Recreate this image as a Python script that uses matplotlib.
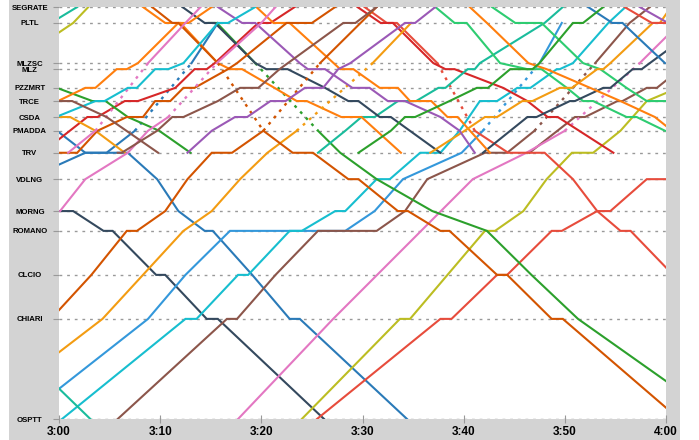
import matplotlib
matplotlib.use("Agg")
import matplotlib.pyplot as plt
from matplotlib.patches import Rectangle

# stations and their distance from Segrate (km)
stations = ["SEGRATE", "PLTL", "MLZSC", "MLZ", "PZZMRT", "TRCE", "CSDA", "PMADDA",
            "TRV", "VDLNG", "MORNG", "ROMANO", "CLCIO", "CHIARI", "OSPTT"]
km = [0.0, 2.9, 10.2, 11.3, 14.7, 17.1, 20.0, 22.5, 26.5, 31.3, 37.1, 40.7, 48.7, 56.7, 74.9]
pos = dict(zip(stations, km))

time_ticks = [0, 10, 20, 30, 40, 50, 60]
time_labels = ["3:00", "3:10", "3:20", "3:30", "3:40", "3:50", "4:00"]

# each train: (minutes after 3:00, station); "fast" = next leg on the fast tracks
t01 = [(0.0, "MORNG"), (1.4, "MORNG"), (4.4, "ROMANO"), (5.3, "ROMANO"), (9.6, "CLCIO"), (10.5, "CLCIO"),
       (14.6, "CHIARI"), (15.7, "CHIARI"), (26.2, "OSPTT")]
t02 = [(-1.5, "CSDA"), (-0.2, "PMADDA"), (2.6, "TRV"), (6.8, "TRV"), (9.7, "VDLNG"), (11.8, "MORNG"),
       (14.4, "ROMANO"), (15.2, "ROMANO"), (19.1, "CLCIO"), (22.8, "CHIARI"), (23.8, "CHIARI"), (34.4, "OSPTT")]
t03 = [(-3.2, "VDLNG"), (2.6, "TRV"), (4.7, "TRV"), (7.5, "PMADDA"), "fast", (13.1, "MLZSC"), (15.7, "PLTL")]
t04 = [(-3.8, "OSPTT"), (8.8, "CHIARI"), (12.5, "CLCIO"), (16.9, "ROMANO"), (28.3, "ROMANO"), (31.2, "MORNG"),
       (34.0, "VDLNG"), (39.8, "TRV"), (41.9, "PMADDA"), "fast", (47.5, "MLZSC"), (49.7, "PLTL")]
t05 = [(0.3, "OSPTT"), (12.5, "CHIARI"), (13.6, "CHIARI"), (17.7, "CLCIO"), (18.7, "CLCIO"), (22.8, "ROMANO"),
       (24.0, "ROMANO"), (27.3, "MORNG"), (28.3, "MORNG"), (31.4, "VDLNG"), (32.7, "VDLNG"), (35.7, "TRV"),
       (37.7, "TRV"), (39.6, "PMADDA"), (41.6, "TRCE"), (43.3, "TRCE"), (45.3, "PZZMRT"), (46.6, "PZZMRT"),
       (49.2, "MLZ"), (49.5, "MLZ"), (50.8, "MLZSC"), (54.3, "PLTL"), (56.0, "SEGRATE")]
t06 = [(5.8, "OSPTT"), (16.6, "CHIARI"), (17.6, "CHIARI"), (21.4, "CLCIO"), (25.6, "ROMANO"), (31.4, "ROMANO"),
       (34.2, "MORNG"), (36.4, "VDLNG"), (42.1, "TRV"), (44.3, "TRV"), (47.0, "PMADDA"), "fast",
       (53.0, "MLZSC"), (56.4, "PLTL"), (58.4, "SEGRATE")]
t07 = [(46.5, "TRV"), (51.0, "CSDA"), (52.0, "CSDA"), (55.2, "TRCE"), (55.7, "TRCE"), (58.1, "PZZMRT"),
       (59.1, "PZZMRT"), (61.4, "MLZ")]
t08 = [(17.7, "OSPTT"), (27.1, "CHIARI"), (40.9, "VDLNG"), (46.2, "TRV"), (50.0, "PMADDA"), "fast",
       (57.4, "MLZSC"), (61.4, "PLTL")]
t09 = [(24.0, "OSPTT"), (33.7, "CHIARI"), (34.7, "CHIARI"), (42.1, "ROMANO"), (43.1, "ROMANO"), (45.9, "MORNG"),
       (48.2, "VDLNG"), (50.7, "TRV"), (52.8, "TRV"), (55.5, "PMADDA"), (58.1, "TRCE"), (61.2, "PZZMRT")]
t10 = [(-4.5, "MLZSC"), (1.4, "PLTL"), (2.9, "SEGRATE")]
t11 = [(25.5, "OSPTT"), (37.7, "CHIARI"), (38.8, "CHIARI"), (43.3, "CLCIO"), (44.3, "CLCIO"), (48.7, "ROMANO"),
       (49.7, "ROMANO"), (53.2, "MORNG"), (54.5, "MORNG"), (58.1, "VDLNG"), (61.0, "VDLNG")]
t12 = [(30.2, "SEGRATE"), (32.4, "PLTL"), (33.4, "PLTL"), (37.4, "MLZSC"), "fast", (41.1, "PMADDA"),
       (44.4, "TRV"), (48.0, "TRV"), (50.8, "VDLNG"), (53.2, "MORNG"), (55.5, "ROMANO"), (56.5, "ROMANO"),
       (60.7, "CLCIO")]
t13 = [(29.5, "SEGRATE"), (31.8, "PLTL"), (33.0, "PLTL"), (37.0, "MLZSC"), (38.2, "MLZ"), (39.1, "MLZ"),
       (43.9, "PZZMRT"), (46.3, "TRCE"), (48.3, "CSDA"), (49.3, "CSDA"), (54.8, "TRV")]
t14 = [(-1.7, "TRV"), (2.8, "CSDA"), (3.8, "CSDA"), (6.5, "TRCE"), (7.8, "TRCE"), (11.5, "PZZMRT"),
       (13.4, "MLZ"), (14.6, "MLZ"), (15.4, "MLZSC"), (19.7, "PLTL"), (20.9, "PLTL"), (23.3, "SEGRATE")]
t15 = [(14.8, "PLTL"), (15.6, "PLTL"), (19.4, "MLZSC"), "fast", (25.6, "PMADDA"), (27.8, "TRV"),
       (31.4, "VDLNG"), (36.9, "MORNG"), (42.3, "ROMANO"), (46.7, "CLCIO"), (51.3, "CHIARI"), (65.3, "OSPTT")]
t16 = [(-3.0, "MLZ"), (-0.2, "PZZMRT"), (3.3, "TRCE"), (4.6, "TRCE"), (6.8, "CSDA"), (9.9, "PMADDA"),
       (13.0, "TRV")]
t17 = [(25.6, "TRV"), (28.3, "PMADDA"), (29.9, "CSDA"), (31.2, "CSDA"), (33.5, "TRCE"), (35.3, "TRCE"),
       (37.5, "PZZMRT"), (38.2, "PZZMRT"), (40.4, "MLZ"), (41.1, "MLZ"), (41.6, "MLZSC"), (48.0, "PLTL"),
       (49.8, "SEGRATE")]
t18 = [(-0.8, "PLTL"), (1.8, "SEGRATE")]
t19 = [(-7.1, "CHIARI"), (3.1, "OSPTT")]
t20 = [(37.2, "SEGRATE"), (39.1, "PLTL"), (40.3, "PLTL"), (43.6, "MLZSC"), (46.3, "MLZ"), (47.7, "MLZ"),
       (50.2, "PZZMRT"), (51.8, "TRCE"), (52.8, "TRCE"), (56.1, "CSDA"), (57.1, "CSDA"), (59.9, "PMADDA")]
t21 = [(42.8, "SEGRATE"), (45.1, "PLTL"), (47.7, "PLTL"), (51.8, "MLZSC"), (53.5, "MLZ"), (56.1, "PZZMRT"),
       (58.1, "TRCE"), (60.1, "TRCE")]
t22 = [(12.2, "SEGRATE"), (14.4, "PLTL"), (15.4, "PLTL"), (19.4, "MLZSC"), (20.5, "MLZ"), (22.6, "MLZ"),
       (26.3, "PZZMRT"), (28.6, "TRCE"), (29.6, "TRCE"), (31.7, "CSDA"), (32.8, "CSDA"), (37.7, "TRV")]
t23 = [(41.9, "TRV"), (46.3, "CSDA"), (47.2, "CSDA"), (50.5, "TRCE"), (51.0, "TRCE"), (53.8, "PZZMRT"),
       (54.5, "PZZMRT"), (56.7, "MLZ"), (57.6, "MLZ"), (58.4, "MLZSC"), (63.8, "PLTL")]
t24 = [(-2.0, "CSDA"), (-0.1, "TRCE"), (2.6, "PZZMRT"), (3.6, "PZZMRT"), (5.7, "MLZ"), (6.7, "MLZ"),
       (7.8, "MLZSC"), (11.8, "PLTL"), (12.8, "PLTL"), (15.1, "SEGRATE")]
t25 = [(8.3, "SEGRATE"), (10.5, "PLTL"), (12.0, "PLTL"), (15.7, "MLZSC"), (16.9, "MLZ"), (18.1, "MLZ"),
       (21.3, "PZZMRT"), (23.5, "TRCE"), (24.5, "TRCE"), (27.9, "CSDA"), (29.9, "CSDA"), (33.8, "TRV")]
t26 = [(-1.0, "CSDA"), (1.1, "CSDA"), (3.6, "PMADDA"), (6.5, "TRV")]
t27 = [(-8.6, "OSPTT"), (4.3, "CHIARI"), (12.3, "ROMANO"), (15.1, "MORNG"), (17.9, "VDLNG"), (20.6, "TRV"),
       (23.5, "PMADDA"), "fast", (31.0, "MLZSC"), (34.8, "PLTL")]
t28 = [(19.5, "SEGRATE"), (21.2, "PLTL"), (22.8, "PLTL"), (27.8, "MLZ"), (29.1, "MLZ"), (31.7, "PZZMRT"),
       (33.5, "PZZMRT"), (34.7, "TRCE"), (36.8, "TRCE"), (38.4, "CSDA"), (39.4, "CSDA"), (42.6, "TRV")]
t29 = [(36.7, "TRV"), (40.1, "PMADDA"), (42.1, "CSDA"), (43.3, "CSDA"), (45.8, "TRCE"), (46.8, "TRCE"),
       (49.5, "PZZMRT"), (50.7, "PZZMRT"), (53.2, "MLZ"), (53.8, "MLZ"), (54.5, "MLZSC"), (58.7, "PLTL"),
       (59.4, "PLTL"), (60.5, "SEGRATE")]
t30 = [(40.6, "SEGRATE"), (42.3, "PLTL"), (46.4, "MLZSC"), (48.2, "MLZ"), (52.5, "PZZMRT"), (55.5, "TRCE"),
       (58.9, "CSDA"), (60.6, "PMADDA")]
t31 = [(-0.8, "CHIARI"), (3.2, "CLCIO"), (6.7, "ROMANO"), (7.7, "ROMANO"), (10.5, "MORNG"), (12.7, "VDLNG"),
       (15.1, "TRV"), (17.1, "TRV"), (20.2, "PMADDA"), "fast", (25.8, "MLZSC"), (31.4, "SEGRATE")]
t32 = [(9.2, "SEGRATE"), (11.2, "PLTL"), (11.8, "PLTL"), (15.7, "MLZSC"), "fast", (20.2, "PMADDA"),
       (23.1, "TRV"), (25.1, "TRV"), (28.6, "VDLNG"), (29.6, "VDLNG"), (33.5, "MORNG"), (34.5, "MORNG"),
       (37.7, "ROMANO"), (38.6, "ROMANO"), (43.3, "CLCIO"), (44.3, "CLCIO"), (48.7, "CHIARI"), (49.8, "CHIARI"),
       (61.3, "OSPTT")]
t33 = [(0.0, "TRV"), (1.8, "TRV"), (3.8, "PMADDA"), (6.7, "CSDA"), (8.3, "CSDA"), (9.5, "TRCE"), (11.0, "TRCE"),
       (12.3, "PZZMRT"), (13.4, "PZZMRT"), (16.7, "MLZ"), (17.6, "MLZSC"), (22.5, "PLTL"), (25.0, "PLTL"),
       (27.3, "SEGRATE")]
t34 = [(12.7, "TRV"), (15.1, "PMADDA"), (17.4, "CSDA"), (18.6, "CSDA"), (20.9, "TRCE"), (22.4, "TRCE"),
       (24.3, "PZZMRT"), (26.1, "PZZMRT"), (27.6, "MLZ"), (28.8, "MLZSC"), (34.2, "PLTL"), (35.2, "PLTL"),
       (37.2, "SEGRATE")]
t35 = [(15.7, "SEGRATE"), (18.1, "PLTL"), (19.4, "PLTL"), (23.8, "MLZSC"), (24.6, "MLZ"), (26.3, "MLZ"),
       (29.0, "PZZMRT"), (30.7, "PZZMRT"), (32.5, "TRCE"), (34.2, "TRCE"), (37.7, "CSDA"), (39.6, "PMADDA"),
       (41.1, "TRV")]
t36 = [(57.4, "SEGRATE"), (60.2, "PLTL")]
t37 = [(0.9, "TRV"), (3.6, "PMADDA"), "fast", (8.8, "MLZSC"), (12.5, "PLTL"), (14.0, "SEGRATE")]
t38 = [(0.1, "MORNG"), (2.6, "VDLNG"), (6.8, "TRV"), (8.8, "PMADDA"), (10.8, "CSDA"), "fast",
       (15.6, "MLZSC"), (20.0, "PLTL"), (21.4, "SEGRATE")]
t39 = [(-2.5, "PMADDA"), (-0.3, "CSDA"), (3.6, "TRCE"), (4.5, "TRCE"), (6.8, "PZZMRT"), (7.7, "PZZMRT"),
       (9.5, "MLZ"), (10.8, "MLZ"), (12.3, "MLZSC"), (15.7, "PLTL"), (16.7, "PLTL"), (19.4, "SEGRATE")]
t40 = [(-1.0, "TRCE"), (1.3, "TRCE"), (4.7, "CSDA"), (9.8, "TRV")]
t41 = [(5.8, "TRV"), (6.2, "TRV"), (9.7, "PMADDA"), (11.2, "CSDA"), (12.3, "CSDA"), (15.7, "TRCE"),
       (17.9, "PZZMRT"), (19.7, "PZZMRT"), (21.8, "MLZ"), (28.1, "PLTL"), (29.3, "PLTL"), (31.4, "SEGRATE")]
t42 = [(52.3, "SEGRATE"), (54.7, "PLTL"), (55.7, "PLTL"), (59.9, "MLZSC")]
t43 = [(29.6, "TRV"), (32.8, "PMADDA"), (34.2, "CSDA"), (35.2, "CSDA"), (38.6, "TRCE"), (41.3, "PZZMRT"),
       (42.4, "PZZMRT"), (44.6, "MLZ"), (46.8, "MLZ"), (47.5, "MLZSC"), (50.8, "PLTL"), (51.8, "PLTL"),
       (53.8, "SEGRATE")]
t44 = [(55.9, "SEGRATE"), (58.6, "PLTL"), (61.0, "PLTL")]

trains = [t01, t02, t03, t04, t05, t06, t07, t08, t09, t10, t11, t12, t13, t14, t15, t16, t17, t18, t19, t20,
          t21, t22, t23, t24, t25, t26, t27, t28, t29, t30, t31, t32, t33, t34, t35, t36, t37, t38, t39, t40,
          t41, t42, t43, t44]
colors = ["#34495e", "#2a7ab8", "#2a7ab8", "#3498db", "#17becf", "#8c564b", "#8c564b", "#e377c2", "#bcbd22",
          "#bcbd22", "#e74c3c", "#e74c3c", "#d62728", "#d62728", "#2ca02c", "#2ca02c", "#1abc9c", "#1abc9c",
          "#1abc9c", "#2ecc71", "#2ecc71", "#34495e", "#34495e", "#ff7f0e", "#ff7f0e", "#f39c12", "#f39c12",
          "#ff7f0e", "#f39c12", "#ff7f0e", "#d35400", "#d35400", "#d35400", "#9b59b6", "#9b59b6", "#9b59b6",
          "#e377c2", "#e377c2", "#17becf", "#8c564b", "#8c564b", "#2a7ab8", "#2ca02c", "#e74c3c"]

fig = plt.figure(figsize=(6.99, 4.40), dpi=100, facecolor="white")
# grey panel behind the chart
fig.patches.append(Rectangle((9 / 699, 0), 671 / 699, 1, transform=fig.transFigure,
                             facecolor="#d3d3d3", edgecolor="none", zorder=-10))
ax = fig.add_axes([59 / 699, 21 / 440, 607 / 699, 412 / 440])
ax.set_facecolor("white")

for train, color in zip(trains, colors):
    run = []
    fast = False
    for item in train:
        if item == "fast":
            fast = True
            continue
        x, y = item[0], pos[item[1]]
        if fast:
            # finish the solid run, draw the fast leg dotted
            if len(run) > 1:
                ax.plot(*zip(*run), color=color, lw=1.5, solid_joinstyle="miter", zorder=3)
            px, py = run[-1]
            ax.plot([px, x], [py, y], color=color, lw=1.7, ls=(0, (1.2, 2.3)), zorder=3)
            run = [(x, y)]
            fast = False
        else:
            run.append((x, y))
    if len(run) > 1:
        ax.plot(*zip(*run), color=color, lw=1.5, solid_joinstyle="miter", zorder=3)

ax.set_xlim(0, 60)
ax.set_ylim(km[-1], km[0])
ax.set_xticks(time_ticks)
ax.set_xticklabels(time_labels, fontsize=8.5, fontweight="bold", family="Liberation Sans")
ax.set_yticks(km)
ax.set_yticklabels(stations, fontsize=5.6, fontweight="bold", family="Liberation Sans", ha="center")
ax.tick_params(axis="y", length=4, color="#999999", pad=17)
ax.tick_params(axis="x", length=6, direction="inout", color="#999999", pad=2)
ax.grid(axis="y", color="#999999", ls=(0, (2, 3.5)), lw=1.0, zorder=1)
for s in ax.spines.values():
    s.set_visible(False)

fig.savefig("out.png", dpi=100, facecolor=fig.get_facecolor())
